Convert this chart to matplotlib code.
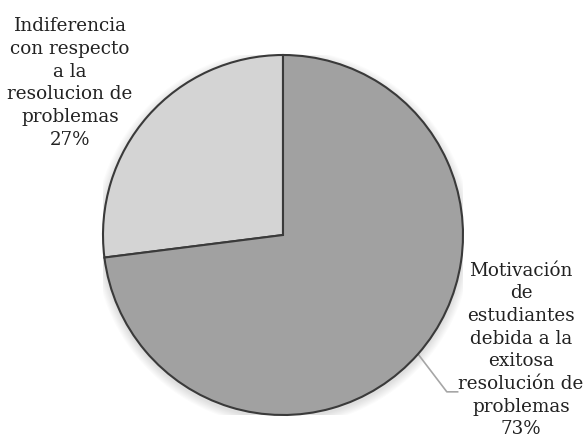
import numpy as np
import matplotlib
matplotlib.use("Agg")
import matplotlib.pyplot as plt
from matplotlib.patches import Circle

labels = ["Indiferencia\ncon respecto\na la\nresolucion de\nproblemas",
          "Motivación\nde\nestudiantes\ndebida a la\nexitosa\nresolución de\nproblemas"]
values = [27, 73]
colors = ["#d4d4d4", "#a1a1a1"]

W, H = 586, 445
fig = plt.figure(figsize=(W / 100, H / 100), dpi=100)
cx, cy, r = 283, 235, 180
ax = fig.add_axes([(cx - r) / W, (H - cy - r) / H, 2 * r / W, 2 * r / H])
ax.set_xlim(-1, 1)
ax.set_ylim(-1, 1)
ax.axis("off")

# soft shadow
for i in range(8):
    ax.add_patch(Circle((0.0, -0.015), 1.0 + 0.006 * (i + 1), color="black",
                        alpha=0.014, lw=0, zorder=0))

wedges, _ = ax.pie(values, colors=colors, startangle=90, counterclock=True,
                   radius=1.0, center=(0, 0),
                   wedgeprops=dict(edgecolor="#3a3a3a", linewidth=1.5))
ax.set_xlim(-1, 1)
ax.set_ylim(-1, 1)
for w in wedges:
    w.set_zorder(2)

font = dict(family="DejaVu Serif", fontsize=13.2, color="#222222",
            ha="center", va="center", linespacing=1.33)

def px(x, y):
    return x / W, 1 - y / H

t0 = f"{labels[0]}\n{values[0]}%"
t1 = f"{labels[1]}\n{values[1]}%"
fig.text(*px(70, 83), t0, **font)
fig.text(*px(521, 350), t1, **font)

# leader line for second slice
w = wedges[1]
ang = np.deg2rad((w.theta1 + w.theta2) / 2)
x0, y0 = np.cos(ang), np.sin(ang)
x1, y1 = x0 + 0.16, y0 - 0.21
x2 = x1 + 0.06
ax.plot([x0, x1, x2], [y0, y1, y1], color="#a6a6a6", lw=1.2, zorder=1,
        clip_on=False)

fig.savefig("out.png", dpi=100, facecolor="white")
